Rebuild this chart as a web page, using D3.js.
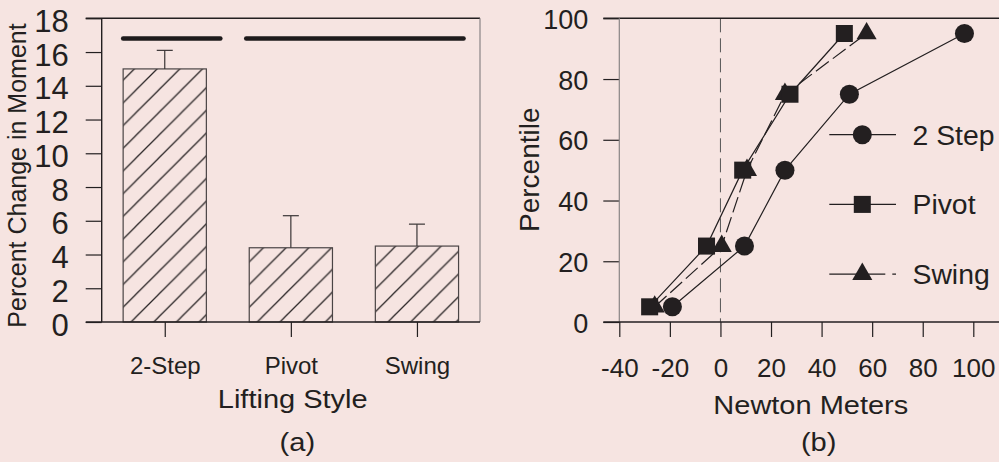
<!DOCTYPE html>
<html>
<head>
<meta charset="utf-8">
<script src="https://cdn.jsdelivr.net/npm/d3@7"></script>
<style>
  body { margin: 0; background: #f6e4e1; }
  svg { display: block; font-family: "Liberation Sans", Arial, sans-serif; }
</style>
</head>
<body>
<div id="chart"></div>
<script>
// (a) percent change in moment by lifting style
const categories = ["2-Step", "Pivot", "Swing"];
const meanChange = [15.0, 4.4, 4.5];
const errorTop = [16.1, 6.3, 5.8];
const sigGroups = [["2-Step"], ["Pivot", "Swing"]];
const sigLevel = 16.8;
const yTicksA = [0, 2, 4, 6, 8, 10, 12, 14, 16, 18];

// (b) cumulative percentile of moment difference
const seriesNames = ["2 Step", "Pivot", "Swing"];
const percentiles = [5, 25, 50, 75, 95];
const twoStepNm = [-19, 9.5, 25.5, 51, 96.5];
const pivotNm = [-28, -5.5, 8.8, 27.5, 49];
const swingNm = [-26, 0.5, 10.5, 25.5, 57.8];
const xTicksB = [-40, -20, 0, 20, 40, 60, 80, 100];
const yTicksB = [0, 20, 40, 60, 80, 100];

const ink = "#231f20";
const svg = d3.select("#chart").append("svg")
  .attr("width", 999)
  .attr("height", 462);

function line(g, x1, y1, x2, y2, color, w) {
  return g.append("line")
    .attr("x1", x1).attr("y1", y1).attr("x2", x2).attr("y2", y2)
    .attr("stroke", color || ink)
    .attr("stroke-width", w || 1.2);
}

function label(g, txt, x, y, size, sx, rotate) {
  return g.append("text")
    .attr("transform", `translate(${x},${y})` + (rotate ? " rotate(-90)" : "") + ` scale(${sx},1)`)
    .attr("text-anchor", "middle")
    .attr("fill", ink)
    .style("font-size", size + "px")
    .text(txt);
}

function styleAxis(g, size) {
  g.select(".domain").remove();
  g.selectAll(".tick line").attr("stroke", ink).attr("stroke-width", 1.2);
  g.selectAll(".tick text")
    .attr("fill", ink)
    .style("font-size", size + "px")
    .style("font-family", "'Liberation Sans', Arial, sans-serif");
}

// plain hyphen for negatives, like the figure
const plain = d => String(d);

// ---------- panel (a) ----------
const xA = d3.scalePoint().domain(categories).range([101.7, 480]).padding(0.5);
const yA = d3.scaleLinear().domain([0, 18]).range([322, 18.3]);
const barW = xA.step() * 0.66;
const gA = svg.append("g");

// one hatch pattern per bar, each with its own phase
const hatchStep = 22.7;
const hatchPhase = [-1, -11, -16.5];
const defs = svg.append("defs");
categories.forEach((c, i) => {
  const s = hatchStep;
  defs.append("pattern")
    .attr("id", "hatch" + i)
    .attr("patternUnits", "userSpaceOnUse")
    .attr("width", s)
    .attr("height", s)
    .attr("patternTransform", `translate(${hatchPhase[i]},0)`)
    .append("path")
    .attr("d", `M0,${s}L${s},0M-2,2L2,-2M${s - 2},${s + 2}L${s + 2},${s - 2}`)
    .attr("stroke", "#2b2627")
    .attr("stroke-width", 1.3);
});

gA.selectAll("rect.bar")
  .data(categories)
  .join("rect")
  .attr("class", "bar")
  .attr("x", c => xA(c) - barW / 2)
  .attr("y", (c, i) => yA(meanChange[i]))
  .attr("width", barW)
  .attr("height", (c, i) => yA(0) - yA(meanChange[i]))
  .attr("fill", (c, i) => `url(#hatch${i})`)
  .attr("stroke", "#4a4445")
  .attr("stroke-width", 1.2);

// upper error bars
categories.forEach((c, i) => {
  line(gA, xA(c), yA(meanChange[i]), xA(c), yA(errorTop[i]), "#3a3536", 1.2);
  line(gA, xA(c) - 8, yA(errorTop[i]), xA(c) + 8, yA(errorTop[i]), "#3a3536", 1.2);
});

// significance bars
const sigPad = [[0, 14], [3, 5]];
sigGroups.forEach((grp, i) => {
  const x1 = xA(grp[0]) - barW / 2 - sigPad[i][0];
  const x2 = xA(grp[grp.length - 1]) + barW / 2 + sigPad[i][1];
  line(gA, x1, yA(sigLevel), x2, yA(sigLevel), "#1e1a1b", 4.5)
    .attr("stroke-linecap", "round");
});

const yAxisA = gA.append("g")
  .attr("transform", "translate(101.7,0)")
  .call(d3.axisLeft(yA).tickValues(yTicksA).tickFormat(plain).tickSize(16).tickPadding(17));
styleAxis(yAxisA, 31);
yAxisA.selectAll(".tick text").attr("dy", "0.42em");

const xAxisA = gA.append("g")
  .attr("transform", "translate(0,322)")
  .call(d3.axisBottom(xA).tickSize(15).tickPadding(20.3));
styleAxis(xAxisA, 24);

// frame
line(gA, 85.7, 18.3, 480, 18.3, ink, 1.4);
line(gA, 101.7, 18.3, 101.7, 322, ink, 1.4);
line(gA, 480, 18.3, 480, 322, "#8a8485", 1.2);
line(gA, 85.7, 322, 480, 322, ink, 1.4);

label(gA, "Percent Change in Moment", 26, 175.5, 25, 1, true);
label(gA, "Lifting Style", 292.7, 407.5, 25, 1.16, false);
label(gA, "(a)", 297.3, 451, 26, 1.12, false);

// ---------- panel (b) ----------
const xB = d3.scaleLinear().domain([-40, 100]).range([619.3, 973.3]);
const yB = d3.scaleLinear().domain([0, 100]).range([322, 18.3]);
const gB = svg.append("g");

// zero reference
line(gB, xB(0), 18.3, xB(0), 322, "#555", 1).attr("stroke-dasharray", "14,6");

const series = [
  { name: seriesNames[0], nm: twoStepNm, symbol: d3.symbolCircle, size: 285, dash: null },
  { name: seriesNames[2], nm: swingNm, symbol: d3.symbolTriangle, size: 175, dash: "16,5" },
  { name: seriesNames[1], nm: pivotNm, symbol: d3.symbolSquare, size: 290, dash: null }
];

const path = d3.line().x(d => xB(d[0])).y(d => yB(d[1]));
series.forEach(s => {
  const pts = s.nm.map((v, i) => [v, percentiles[i]]);
  gB.append("path")
    .attr("d", path(pts))
    .attr("fill", "none")
    .attr("stroke", ink)
    .attr("stroke-width", 1.2)
    .attr("stroke-dasharray", s.dash);
});
series.forEach(s => {
  const pts = s.nm.map((v, i) => [v, percentiles[i]]);
  gB.selectAll(null)
    .data(pts)
    .join("path")
    .attr("transform", d => `translate(${xB(d[0])},${yB(d[1])})`)
    .attr("d", d3.symbol().type(s.symbol).size(s.size))
    .attr("fill", ink);
});

const yAxisB = gB.append("g")
  .attr("transform", "translate(619.3,0)")
  .call(d3.axisLeft(yB).tickValues(yTicksB).tickFormat(plain).tickSize(16).tickPadding(15));
styleAxis(yAxisB, 27);
yAxisB.selectAll(".tick text").attr("dy", "0.37em");

const xAxisB = gB.append("g")
  .attr("transform", "translate(0,322)")
  .call(d3.axisBottom(xB).tickValues(xTicksB).tickFormat(plain).tickSize(15).tickPadding(21.2));
styleAxis(xAxisB, 26);

line(gB, 603.3, 18.3, 1005, 18.3, ink, 1.4);
line(gB, 619.3, 18.3, 619.3, 322, "#8a8485", 1.2);
line(gB, 603.3, 322, 1005, 322, ink, 1.4);

label(gB, "Percentile", 539, 169.7, 28, 1, true);
label(gB, "Newton Meters", 810.8, 414, 25, 1.16, false);
label(gB, "(b)", 818.7, 451, 26, 1.12, false);

// legend
const legend = [
  { name: seriesNames[0], symbol: d3.symbolCircle, size: 285, dash: null },
  { name: seriesNames[1], symbol: d3.symbolSquare, size: 290, dash: null },
  { name: seriesNames[2], symbol: d3.symbolTriangle, size: 175, dash: "56,7,4,7" }
];
legend.forEach((d, i) => {
  const ly = 134.7 + i * 69.7;
  line(gB, 829.3, ly, 896, ly, ink, 1.2).attr("stroke-dasharray", d.dash);
  gB.append("path")
    .attr("transform", `translate(862.3,${ly})`)
    .attr("d", d3.symbol().type(d.symbol).size(d.size))
    .attr("fill", ink);
  gB.append("text")
    .attr("transform", `translate(912.5,${ly + 10}) scale(1.05,1)`)
    .attr("fill", ink)
    .style("font-size", "27px")
    .text(d.name);
});
</script>
</body>
</html>
